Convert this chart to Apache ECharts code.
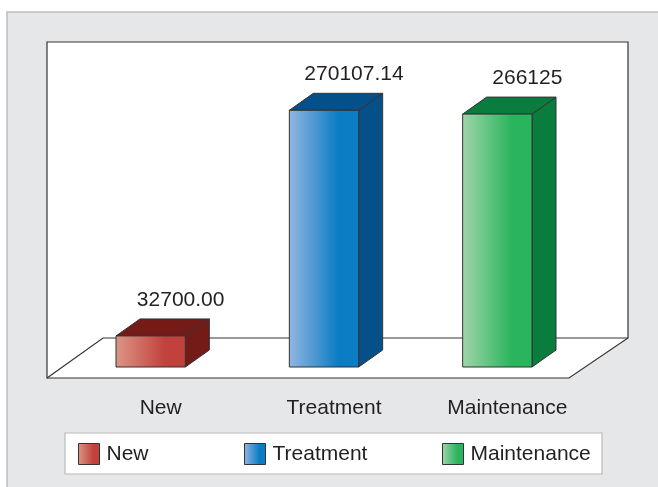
<!DOCTYPE html>
<html>
<head>
<meta charset="utf-8">
<script src="https://cdn.jsdelivr.net/npm/echarts@6/dist/echarts.min.js"></script>
<style>
    html, body { margin: 0; padding: 0; background: #fff; }
    #chart { width: 658px; height: 487px; }
</style>
</head>
<body>
<div id="chart"></div>
<script>
// 数据
var categories = ['New', 'Treatment', 'Maintenance'];
var values = [32700, 270107.14, 266125];
var valueLabels = ['32700.00', '270107.14', '266125'];

// 颜色 (正面渐变左浅右深, 侧面/顶面深色)
var lightColors = ['#dc9686', '#93b6e1', '#a0d6aa'];
var mainColors = ['#c1423d', '#0b7dc4', '#2bb45e'];
var darkColors = ['#741a17', '#06508a', '#0a7d3e'];

var FONT = 'Liberation Sans, Arial, sans-serif';
var TEXT = '#231f20';
var DX = 24, DY = -17;

function frontGradient(i) {
    return new echarts.graphic.LinearGradient(0, 0, 1, 0, [
        { offset: 0, color: lightColors[i] },
        { offset: 0.7, color: mainColors[i] },
        { offset: 1, color: mainColors[i] }
    ]);
}

// 画立体柱子
function renderBox(params, api) {
    var idx = api.value(0);
    var base = api.coord([idx, 0]);
    var top = api.coord([idx, api.value(1)]);
    var w = api.size([1, 0])[0] * 0.4;
    var x0 = base[0] - w / 2, x1 = base[0] + w / 2;
    var y0 = top[1], y1 = base[1];
    var line = { stroke: '#333', lineWidth: 1 };
    return {
        type: 'group',
        children: [
            {
                type: 'polygon',
                shape: { points: [[x1, y0], [x1 + DX, y0 + DY], [x1 + DX, y1 + DY], [x1, y1]] },
                style: Object.assign({ fill: darkColors[idx] }, line)
            },
            {
                type: 'polygon',
                shape: { points: [[x0, y0], [x0 + DX, y0 + DY], [x1 + DX, y0 + DY], [x1, y0]] },
                style: Object.assign({ fill: darkColors[idx] }, line)
            },
            {
                type: 'rect',
                shape: { x: x0, y: y0, width: w, height: y1 - y0 },
                style: Object.assign({ fill: frontGradient(idx) }, line)
            },
            {
                type: 'text',
                x: base[0] + DX + 6,
                y: y0 + DY - 19,
                style: {
                    text: valueLabels[idx],
                    fontSize: 21,
                    fontFamily: FONT,
                    fill: TEXT,
                    align: 'center',
                    verticalAlign: 'middle'
                }
            }
        ]
    };
}

var chart = echarts.init(document.getElementById('chart'));

var legendLeft = [78, 244, 442];

var option = {
    animation: false,
    backgroundColor: '#fff',
    graphic: [
        {
            type: 'rect', z: 0, silent: true,
            shape: { x: 7, y: 12, width: 660, height: 490 },
            style: { fill: '#e6e7e8', stroke: '#bcbdc0', lineWidth: 1.5 }
        },
        {
            type: 'polygon', z: 0, silent: true,
            shape: { points: [[47, 42], [628, 42], [628, 338], [569, 378], [47, 378]] },
            style: { fill: '#fff', stroke: '#333', lineWidth: 1.2 }
        },
        {
            type: 'polyline', z: 0, silent: true,
            shape: { points: [[47, 378], [103, 338], [628, 338]] },
            style: { stroke: '#333', lineWidth: 1.2, fill: null }
        },
        {
            type: 'rect', z: 0, silent: true,
            shape: { x: 65, y: 433, width: 537, height: 41 },
            style: { fill: '#fff', stroke: '#b9b9b9', lineWidth: 1.2 }
        }
    ],
    legend: categories.map(function (name, i) {
        return {
            left: legendLeft[i],
            top: 443,
            padding: 0,
            selectedMode: false,
            itemWidth: 21,
            itemHeight: 21,
            textStyle: { fontSize: 21, fontFamily: FONT, color: TEXT, padding: [0, 0, 0, 2] },
            data: [{
                name: name,
                icon: 'rect',
                itemStyle: { color: frontGradient(i), borderColor: '#333', borderWidth: 1 }
            }]
        };
    }),
    grid: {
        left: 64,
        right: 74,
        top: 42,
        bottom: 120
    },
    xAxis: {
        type: 'category',
        data: categories,
        axisLine: { show: false },
        axisTick: { show: false },
        axisLabel: {
            fontSize: 21,
            fontFamily: FONT,
            color: TEXT,
            margin: 31,
            padding: [0, 0, 0, 20]
        }
    },
    yAxis: {
        type: 'value',
        min: 0,
        max: 342000,
        show: false
    },
    series: categories.map(function (name, i) {
        return {
            name: name,
            type: 'custom',
            renderItem: renderBox,
            itemStyle: { color: mainColors[i] },
            encode: { x: 0, y: 1 },
            data: [[i, values[i]]]
        };
    })
};

chart.setOption(option);
</script>
</body>
</html>
